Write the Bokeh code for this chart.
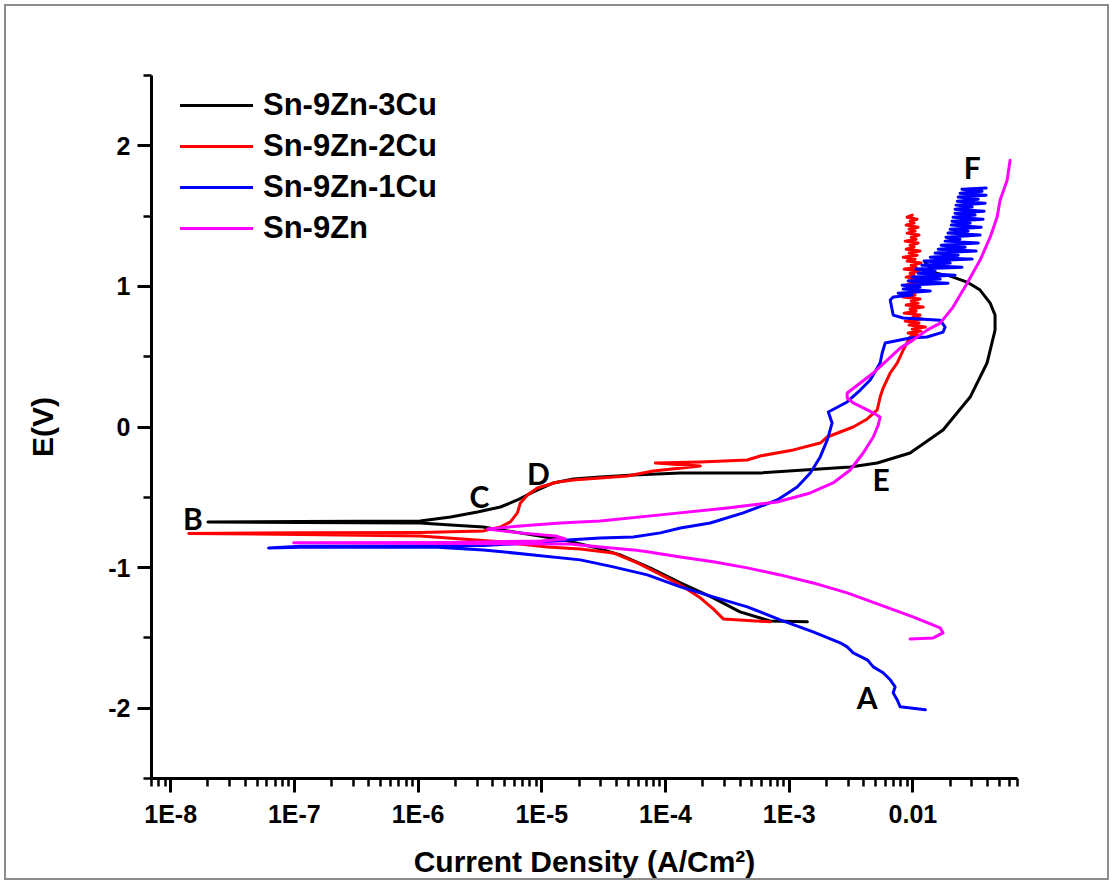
from bokeh.plotting import figure
from bokeh.models import (Range1d, FixedTicker, CustomJSTickFormatter, Legend,
                          LegendItem, ColumnDataSource)
from bokeh.core.properties import value
from bokeh.embed import file_html
from bokeh.resources import INLINE

# ---------------- data (current density A/cm^2, potential V) ----------------
black_i = [1.40e-3, 7.0e-4, 4.0e-4, 2.43e-4, 1.32e-4, 7.5e-5, 4.3e-5, 2.6e-5, 1.49e-5,
           8.55e-6, 4.63e-6, 3.37e-6, 1.83e-6, 1.04e-6, 1.12e-7, 2.0e-8, 1.12e-7, 1.04e-6,
           1.83e-6, 3.02e-6, 4.63e-6, 6.35e-6, 8.55e-6, 1.24e-5, 1.80e-5, 2.97e-5, 5.50e-5,
           1.32e-4, 5.83e-4, 3.11e-3, 5.14e-3, 9.48e-3, 1.75e-2, 2.90e-2, 3.97e-2, 4.61e-2,
           4.61e-2, 4.21e-2, 3.49e-2, 2.74e-2, 2.00e-2, 1.51e-2, 1.26e-2]
black_e = [-1.386, -1.379, -1.315, -1.215, -1.109, -1.002, -0.910, -0.853, -0.803,
           -0.768, -0.732, -0.711, -0.697, -0.682, -0.679, -0.675, -0.672, -0.668,
           -0.640, -0.604, -0.569, -0.519, -0.462, -0.398, -0.370, -0.355, -0.341,
           -0.327, -0.327, -0.284, -0.256, -0.185, -0.021, 0.213, 0.455, 0.689,
           0.796, 0.881, 0.974, 1.031, 1.073, 1.095, 1.17]

red_i = [7.03e-4, 2.93e-4, 2.43e-4, 1.91e-4, 1.32e-4, 8.59e-5, 5.92e-5, 3.78e-5, 2.05e-5,
         1.11e-5, 4.63e-6, 1.04e-6, 1.12e-7, 1.40e-8, 1.12e-7, 1.04e-6, 3.37e-6, 4.63e-6,
         5.57e-6, 6.35e-6, 6.71e-6, 7.66e-6, 9.20e-6, 1.34e-5, 1.80e-5, 2.97e-5, 4.91e-5,
         7.96e-5, 1.91e-4, 8.28e-5, 1.91e-4, 4.58e-4, 5.83e-4, 1.08e-3, 1.78e-3, 2.03e-3,
         3.29e-3, 4.27e-3, 5.14e-3, 5.43e-3, 5.74e-3, 6.55e-3, 7.45e-3, 8.34e-3, 9.48e-3,
         1.10e-2, 9.14e-3, 1.16e-2, 9.86e-3, 1.26e-2, 9.31e-3, 1.12e-2, 8.65e-3, 1.18e-2,
         1.00e-2, 1.14e-2, 8.49e-3, 1.06e-2, 9.48e-3, 1.21e-2, 8.81e-3, 1.10e-2, 9.68e-3,
         1.14e-2, 8.34e-3, 1.04e-2, 9.14e-3, 1.16e-2, 9.86e-3, 1.10e-2, 8.65e-3, 1.08e-2,
         9.31e-3, 1.18e-2, 8.81e-3, 1.02e-2, 9.48e-3, 1.12e-2, 8.49e-3, 1.06e-2, 9.68e-3,
         1.16e-2, 8.97e-3, 1.04e-2, 8.34e-3, 1.08e-2, 9.31e-3, 1.14e-2, 8.81e-3, 1.02e-2,
         9.48e-3, 1.10e-2, 8.65e-3, 1.06e-2, 9.68e-3, 1.12e-2, 8.97e-3, 1.04e-2, 9.31e-3,
         1.10e-2, 8.81e-3, 1.02e-2, 9.48e-3, 1.08e-2, 8.97e-3, 9.86e-3]
red_e = [-1.386, -1.365, -1.294, -1.215, -1.123, -1.038, -0.967, -0.896, -0.867,
         -0.853, -0.817, -0.775, -0.764, -0.757, -0.753, -0.750, -0.739, -0.711,
         -0.675, -0.611, -0.540, -0.483, -0.434, -0.391, -0.377, -0.362, -0.348,
         -0.313, -0.277, -0.256, -0.249, -0.235, -0.206, -0.163, -0.114, -0.071,
         0.0, 0.057, 0.121, 0.213, 0.277, 0.384, 0.455, 0.547, 0.640,
         0.654, 0.668, 0.682, 0.696, 0.711, 0.725, 0.739, 0.753, 0.768,
         0.782, 0.796, 0.810, 0.824, 0.839, 0.853, 0.867, 0.881, 0.895,
         0.910, 0.924, 0.938, 0.952, 0.967, 0.981, 0.995, 1.009, 1.023,
         1.038, 1.052, 1.066, 1.080, 1.094, 1.109, 1.123, 1.137, 1.151,
         1.166, 1.180, 1.194, 1.208, 1.222, 1.237, 1.251, 1.265, 1.279,
         1.293, 1.308, 1.322, 1.336, 1.350, 1.365, 1.379, 1.393, 1.407,
         1.421, 1.436, 1.450, 1.464, 1.478, 1.492, 1.507]

blue_i = [1.26e-2, 7.89e-3, 7.45e-3, 6.92e-3, 7.18e-3, 6.55e-3, 5.74e-3, 4.78e-3, 4.27e-3,
          3.29e-3, 2.94e-3, 2.58e-3, 1.56e-3, 8.45e-4, 4.58e-4, 2.43e-4, 1.32e-4, 7.13e-5,
          3.78e-5, 2.05e-5, 8.55e-6, 3.37e-6, 1.33e-6, 1.12e-7, 6.19e-8, 1.12e-7, 1.33e-6,
          3.37e-6, 8.55e-6, 1.61e-5, 2.97e-5, 5.50e-5, 9.08e-5, 1.32e-4, 2.30e-4, 4.25e-4,
          8.00e-4, 1.16e-3, 1.48e-3, 1.78e-3, 2.03e-3, 2.22e-3, 2.07e-3, 2.94e-3, 3.75e-3,
          4.51e-3, 5.43e-3, 5.64e-3, 5.96e-3, 9.48e-3, 1.30e-2, 1.75e-2, 1.82e-2, 1.66e-2,
          8.34e-3, 6.92e-3, 6.55e-3,
          6.92e-3, 9.86e-3, 7.60e-3, 1.38e-2, 8.34e-3, 1.14e-2, 8.18e-3, 1.92e-2, 9.14e-3,
          1.66e-2, 9.86e-3, 2.19e-2, 1.10e-2, 1.51e-2, 1.06e-2, 2.49e-2, 1.18e-2, 2.00e-2,
          1.23e-2, 3.01e-2, 1.38e-2, 2.32e-2, 1.51e-2, 3.24e-2, 1.60e-2, 2.64e-2, 1.69e-2,
          3.37e-2, 1.82e-2, 2.40e-2, 1.85e-2, 3.49e-2, 1.92e-2, 2.79e-2, 2.00e-2, 3.56e-2,
          2.04e-2, 2.90e-2, 2.07e-2, 3.69e-2, 2.11e-2, 3.18e-2, 2.19e-2, 3.76e-2, 2.19e-2,
          3.01e-2, 2.23e-2, 3.83e-2, 2.28e-2, 3.37e-2, 2.32e-2, 3.90e-2, 2.40e-2, 3.62e-2,
          2.49e-2, 3.90e-2]
blue_e = [-2.011, -1.990, -1.940, -1.891, -1.848, -1.798, -1.748, -1.706, -1.656,
          -1.606, -1.564, -1.535, -1.457, -1.372, -1.279, -1.208, -1.137, -1.052,
          -0.995, -0.945, -0.910, -0.874, -0.853, -0.856, -0.860, -0.849, -0.846,
          -0.842, -0.824, -0.803, -0.789, -0.782, -0.753, -0.718, -0.683, -0.611,
          -0.519, -0.427, -0.327, -0.213, -0.092, 0.028, 0.107, 0.178, 0.263,
          0.334, 0.455, 0.526, 0.597, 0.633, 0.640, 0.675, 0.711, 0.760,
          0.775, 0.796, 0.903,
          0.924, 0.938, 0.952, 0.967, 0.981, 0.995, 1.009, 1.023, 1.038,
          1.052, 1.066, 1.080, 1.094, 1.109, 1.123, 1.137, 1.151, 1.166,
          1.180, 1.194, 1.208, 1.222, 1.237, 1.251, 1.265, 1.279, 1.293,
          1.308, 1.322, 1.336, 1.350, 1.365, 1.379, 1.393, 1.407, 1.421,
          1.436, 1.450, 1.464, 1.478, 1.492, 1.507, 1.521, 1.535, 1.549,
          1.564, 1.578, 1.592, 1.606, 1.620, 1.635, 1.649, 1.663, 1.677,
          1.691, 1.699]

mag_i = [9.48e-3, 1.46e-2, 1.75e-2, 1.66e-2, 1.00e-2, 5.43e-3, 2.94e-3, 1.56e-3, 8.45e-4,
         4.58e-4, 2.43e-4, 1.32e-4, 7.13e-5, 5.50e-5, 2.97e-5, 1.70e-5, 1.83e-6, 9.86e-8,
         1.83e-6, 9.75e-6, 1.55e-5, 1.29e-5, 6.71e-6, 3.64e-6, 6.71e-6, 1.41e-5, 2.97e-5,
         9.08e-5, 3.16e-4, 8.00e-4, 1.48e-3, 2.26e-3, 3.11e-3, 3.96e-3, 4.78e-3, 5.24e-3,
         5.43e-3, 4.78e-3, 3.29e-3, 2.94e-3, 2.94e-3, 3.75e-3, 4.78e-3, 6.19e-3, 7.89e-3,
         1.00e-2, 1.30e-2, 1.66e-2, 2.11e-2, 2.74e-2, 3.49e-2, 4.21e-2, 4.79e-2, 5.06e-2,
         5.77e-2, 6.10e-2]
mag_e = [-1.507, -1.500, -1.464, -1.429, -1.350, -1.265, -1.180, -1.109, -1.052,
         -1.002, -0.959, -0.924, -0.888, -0.874, -0.853, -0.832, -0.828, -0.824,
         -0.821, -0.810, -0.796, -0.775, -0.753, -0.725, -0.704, -0.683, -0.668,
         -0.625, -0.576, -0.533, -0.469, -0.398, -0.306, -0.185, -0.071, 0.014,
         0.071, 0.100, 0.171, 0.206, 0.242, 0.313, 0.384, 0.476, 0.561,
         0.618, 0.689, 0.739, 0.853, 1.023, 1.187, 1.350, 1.493, 1.613,
         1.755, 1.898]

series_names = ["Sn-9Zn-3Cu", "Sn-9Zn-2Cu", "Sn-9Zn-1Cu", "Sn-9Zn"]
series_colors = ["#000000", "#ff0000", "#0000ff", "#ff00ff"]

# point labels
label_text = ["A", "B", "C", "D", "E", "F"]
label_i = [4.27e-3, 1.51e-8, 3.13e-6, 9.40e-6, 5.53e-3, 3.01e-2]
label_e = [-1.919, -0.647, -0.490, -0.327, -0.370, 1.848]

x_ticks = [1e-8, 1e-7, 1e-6, 1e-5, 1e-4, 1e-3, 1e-2]
x_tick_labels = ["1E-8", "1E-7", "1E-6", "1E-5", "1E-4", "1E-3", "0.01"]
y_ticks = [-2, -1, 0, 1, 2]
y_tick_labels = ["-2", "-1", "0", "1", "2"]
y_minor = [-2.5, -1.5, -0.5, 0.5, 1.5, 2.5]

for a, b in [(black_i, black_e), (red_i, red_e), (blue_i, blue_e), (mag_i, mag_e)]:
    assert len(a) == len(b)

# ---------------- figure ----------------
p = figure(width=1113, height=884, x_axis_type="log",
           x_range=Range1d(7e-9, 0.07), y_range=Range1d(-2.5, 2.5),
           output_backend="svg", toolbar_location=None,
           min_border_left=151, min_border_right=96, min_border_top=75,
           min_border_bottom=106)
p.styles = {"outline": "2px solid #8c8c8c", "outline-offset": "-6px"}
p.outline_line_color = None
p.xgrid.visible = False
p.ygrid.visible = False
p.background_fill_color = None
p.border_fill_color = None

FONT = "Liberation Sans"

x_minor = [m * 10.0 ** e for e in range(-9, -1) for m in range(2, 10)]
x_minor = [v for v in x_minor if 6.9e-9 <= v <= 0.0701]
p.xaxis.ticker = FixedTicker(ticks=x_ticks, minor_ticks=x_minor)
p.xaxis.formatter = CustomJSTickFormatter(
    args=dict(tvals=x_ticks, tlabels=x_tick_labels), code="""
    let best = 0, bd = Infinity;
    for (let k = 0; k < tvals.length; k++) {
        const d = Math.abs(Math.log10(tick) - Math.log10(tvals[k]));
        if (d < bd) { bd = d; best = k; }
    }
    return tlabels[best];
""")
p.yaxis.ticker = FixedTicker(ticks=y_ticks, minor_ticks=y_minor)
p.yaxis.formatter = CustomJSTickFormatter(
    args=dict(tvals=y_ticks, tlabels=y_tick_labels), code="""
    let best = 0, bd = Infinity;
    for (let k = 0; k < tvals.length; k++) {
        const d = Math.abs(tick - tvals[k]);
        if (d < bd) { bd = d; best = k; }
    }
    return tlabels[best];
""")

for ax in (p.xaxis[0], p.yaxis[0]):
    ax.axis_line_width = 3
    ax.axis_line_color = "black"
    ax.major_tick_line_width = 3
    ax.minor_tick_line_width = 2.5
    ax.major_tick_in = 0
    ax.minor_tick_in = 0
    ax.major_tick_out = 14
    ax.minor_tick_out = 8
    ax.major_label_text_font = FONT
    ax.major_label_text_font_style = "bold"
    ax.major_label_text_font_size = "25px"
    ax.major_label_text_color = "black"
    ax.axis_label_text_font = FONT
    ax.axis_label_text_font_style = "bold"
    ax.axis_label_text_font_size = "30px"
    ax.axis_label_text_color = "black"

p.xaxis.axis_label = "Current Density (A/Cm²)"
p.yaxis.axis_label = "E(V)"
p.xaxis.major_label_standoff = 7
p.yaxis.major_label_standoff = 7
p.xaxis.axis_label_standoff = 14
p.yaxis.axis_label_standoff = 46

curves = [(black_i, black_e), (red_i, red_e), (blue_i, blue_e), (mag_i, mag_e)]
items = []
for (xi, ye), name, col in zip(curves, series_names, series_colors):
    r = p.line(xi, ye, line_color=col, line_width=3, line_join="round", line_cap="round")
    items.append(LegendItem(label=name, renderers=[r]))

src = ColumnDataSource(dict(x=label_i, y=label_e, t=label_text))
p.text(x="x", y="y", text="t", source=src, text_font=value("Lato"),
       text_font_style="bold", text_font_size="30px", text_align="center",
       text_baseline="middle", text_color="black")

legend = Legend(items=items, location=(29, 532), orientation="vertical")
legend.glyph_width = 73
legend.glyph_height = 30
legend.label_height = 30
legend.label_standoff = 10
legend.spacing = 5
legend.padding = 10
legend.margin = 0
legend.border_line_color = None
legend.background_fill_alpha = 0
legend.label_text_font = FONT
legend.label_text_font_style = "bold"
legend.label_text_font_size = "31px"
legend.label_text_color = "black"
p.add_layout(legend, "center")

open("out.html", "w").write(file_html(p, INLINE))
